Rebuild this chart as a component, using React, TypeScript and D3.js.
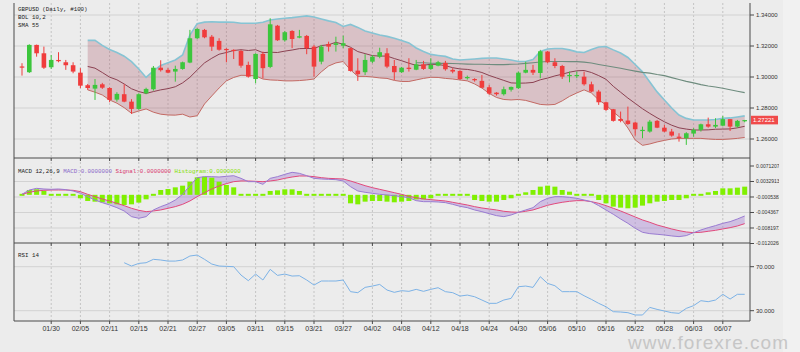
import React, { useEffect, useRef } from 'react';
import * as d3 from 'd3';

// GBPUSD daily, 100 bars (2019-01-24 .. 2019-06-12)
const dates = [
  '01/24', '01/25', '01/28', '01/29', '01/30', '01/31', '02/01', '02/04', '02/05', '02/06',
  '02/07', '02/08', '02/11', '02/12', '02/13', '02/14', '02/15', '02/18', '02/19', '02/20',
  '02/21', '02/22', '02/25', '02/26', '02/27', '02/28', '03/01', '03/04', '03/05', '03/06',
  '03/07', '03/08', '03/11', '03/12', '03/13', '03/14', '03/15', '03/18', '03/19', '03/20',
  '03/21', '03/22', '03/25', '03/26', '03/27', '03/28', '03/29', '04/01', '04/02', '04/03',
  '04/04', '04/05', '04/08', '04/09', '04/10', '04/11', '04/12', '04/15', '04/16', '04/17',
  '04/18', '04/19', '04/22', '04/23', '04/24', '04/25', '04/26', '04/29', '04/30', '05/01',
  '05/02', '05/03', '05/06', '05/07', '05/08', '05/09', '05/10', '05/13', '05/14', '05/15',
  '05/16', '05/17', '05/20', '05/21', '05/22', '05/23', '05/24', '05/27', '05/28', '05/29',
  '05/30', '05/31', '06/03', '06/04', '06/05', '06/06', '06/07', '06/10', '06/11', '06/12',
];

const tickDates = [
  '01/30', '02/05', '02/11', '02/15', '02/21', '02/27', '03/05', '03/11', '03/15', '03/21', '03/27', '04/02',
  '04/08', '04/12', '04/18', '04/24', '04/30', '05/06', '05/10', '05/16', '05/22', '05/28', '06/03', '06/07',
];

const open = [
  1.3068, 1.3031, 1.3207, 1.3153, 1.3063, 1.3110, 1.3095, 1.3076, 1.3028, 1.2947,
  1.2925, 1.2953, 1.2929, 1.2854, 1.2889, 1.2841, 1.2794, 1.2895, 1.2921, 1.3060,
  1.3046, 1.3035, 1.3052, 1.3093, 1.3250, 1.3304, 1.3260, 1.3233, 1.3181, 1.3175,
  1.3168, 1.3078, 1.2987, 1.3149, 1.3065, 1.3331, 1.3237, 1.3297, 1.3254, 1.3265,
  1.3196, 1.3099, 1.3213, 1.3207, 1.3202, 1.3186, 1.3041, 1.3031, 1.3099, 1.3131,
  1.3153, 1.3071, 1.3031, 1.3060, 1.3047, 1.3082, 1.3052, 1.3073, 1.3091, 1.3046,
  1.3039, 1.2992, 1.2987, 1.2975, 1.2934, 1.2899, 1.2889, 1.2918, 1.2928, 1.3028,
  1.3046, 1.3026, 1.3164, 1.3095, 1.3071, 1.3009, 1.3011, 1.3002, 1.2953, 1.2906,
  1.2837, 1.2792, 1.2729, 1.2719, 1.2706, 1.2652, 1.2648, 1.2717, 1.2673, 1.2648,
  1.2615, 1.2605, 1.2635, 1.2659, 1.2695, 1.2680, 1.2686, 1.2728, 1.2680, 1.2717,
];
const high = [
  1.3089, 1.3211, 1.3209, 1.3196, 1.3142, 1.3160, 1.3110, 1.3095, 1.3057, 1.2955,
  1.2987, 1.2962, 1.2934, 1.2902, 1.2953, 1.2857, 1.2895, 1.2931, 1.3071, 1.3108,
  1.3057, 1.3073, 1.3099, 1.3304, 1.3315, 1.3310, 1.3271, 1.3250, 1.3186, 1.3179,
  1.3175, 1.3099, 1.3153, 1.3164, 1.3379, 1.3336, 1.3297, 1.3302, 1.3304, 1.3271,
  1.3207, 1.3207, 1.3228, 1.3260, 1.3267, 1.3189, 1.3121, 1.3147, 1.3142, 1.3189,
  1.3186, 1.3110, 1.3065, 1.3121, 1.3110, 1.3104, 1.3121, 1.3104, 1.3104, 1.3057,
  1.3044, 1.3009, 1.2992, 1.3013, 1.2949, 1.2902, 1.2938, 1.2938, 1.3035, 1.3099,
  1.3078, 1.3175, 1.3168, 1.3121, 1.3078, 1.3035, 1.3035, 1.3035, 1.2970, 1.2917,
  1.2841, 1.2794, 1.2777, 1.2809, 1.2712, 1.2680, 1.2723, 1.2723, 1.2691, 1.2665,
  1.2637, 1.2644, 1.2670, 1.2699, 1.2738, 1.2734, 1.2749, 1.2729, 1.2723, 1.2723,
];
const low = [
  1.3009, 1.3026, 1.3131, 1.3052, 1.3052, 1.3095, 1.3046, 1.3024, 1.2928, 1.2917,
  1.2852, 1.2923, 1.2837, 1.2841, 1.2837, 1.2762, 1.2788, 1.2889, 1.2912, 1.3035,
  1.3024, 1.2970, 1.3047, 1.3089, 1.3245, 1.3250, 1.3168, 1.3170, 1.3095, 1.3116,
  1.3060, 1.2996, 1.2960, 1.2992, 1.3057, 1.3233, 1.3228, 1.3186, 1.3250, 1.3147,
  1.3002, 1.3082, 1.3164, 1.3164, 1.3186, 1.3035, 1.2975, 1.3013, 1.3089, 1.3121,
  1.3057, 1.2981, 1.3026, 1.3035, 1.3044, 1.3046, 1.3046, 1.3069, 1.3041, 1.3024,
  1.2981, 1.2983, 1.2970, 1.2928, 1.2884, 1.2880, 1.2880, 1.2906, 1.2923, 1.3024,
  1.3013, 1.2992, 1.3089, 1.3057, 1.2987, 1.2966, 1.2992, 1.2944, 1.2902, 1.2820,
  1.2781, 1.2712, 1.2708, 1.2691, 1.2622, 1.2605, 1.2641, 1.2670, 1.2644, 1.2615,
  1.2583, 1.2562, 1.2615, 1.2648, 1.2673, 1.2670, 1.2682, 1.2652, 1.2673, 1.2708,
];
const close = [
  1.3062, 1.3207, 1.3153, 1.3060, 1.3110, 1.3102, 1.3076, 1.3035, 1.2944, 1.2929,
  1.2949, 1.2931, 1.2852, 1.2891, 1.2841, 1.2794, 1.2889, 1.2923, 1.3060, 1.3044,
  1.3028, 1.3052, 1.3095, 1.3250, 1.3310, 1.3256, 1.3196, 1.3176, 1.3176, 1.3173,
  1.3073, 1.3002, 1.3149, 1.3057, 1.3340, 1.3237, 1.3289, 1.3245, 1.3263, 1.3186,
  1.3067, 1.3196, 1.3196, 1.3218, 1.3218, 1.3039, 1.3018, 1.3110, 1.3131, 1.3160,
  1.3067, 1.3031, 1.3060, 1.3052, 1.3082, 1.3052, 1.3078, 1.3095, 1.3050, 1.3035,
  1.2987, 1.3000, 1.2979, 1.2931, 1.2893, 1.2889, 1.2921, 1.2936, 1.3028, 1.3046,
  1.3028, 1.3166, 1.3095, 1.3071, 1.3002, 1.3013, 1.3013, 1.2953, 1.2906, 1.2837,
  1.2788, 1.2717, 1.2717, 1.2697, 1.2663, 1.2659, 1.2712, 1.2673, 1.2648, 1.2622,
  1.2609, 1.2637, 1.2659, 1.2695, 1.2680, 1.2691, 1.2728, 1.2680, 1.2717, 1.27221,
];

// BOL 10,2 (starts at bar 9)
const bollStart = 9;
const bollUpper = [
  1.3236, 1.3236, 1.3204, 1.3178, 1.3158, 1.3134, 1.3099, 1.3052, 1.2997, 1.3039,
  1.3075, 1.3092, 1.3110, 1.3142, 1.3271, 1.3344, 1.3354, 1.3356, 1.3354, 1.3354,
  1.3353, 1.3347, 1.3347, 1.3347, 1.3353, 1.3368, 1.3374, 1.3379, 1.3383, 1.3389,
  1.3394, 1.3387, 1.3374, 1.3362, 1.3352, 1.3326, 1.3339, 1.3320, 1.3297, 1.3284,
  1.3271, 1.3262, 1.3250, 1.3236, 1.3220, 1.3187, 1.3165, 1.3146, 1.3139, 1.3133,
  1.3116, 1.3110, 1.3113, 1.3116, 1.3120, 1.3123, 1.3123, 1.3116, 1.3110, 1.3100,
  1.3100, 1.3113, 1.3165, 1.3181, 1.3184, 1.3184, 1.3175, 1.3162, 1.3158, 1.3178,
  1.3194, 1.3197, 1.3175, 1.3155, 1.3126, 1.3081, 1.3033, 1.2968, 1.2904, 1.2852,
  1.2800, 1.2755, 1.2733, 1.2723, 1.2723, 1.2723, 1.2726, 1.2733, 1.2736, 1.2742,
  1.2749,
];
const bollMid = [
  1.3068, 1.3057, 1.3029, 1.2999, 1.2982, 1.2955, 1.2924, 1.2906, 1.2894, 1.2906,
  1.2917, 1.2925, 1.2937, 1.2962, 1.2998, 1.3045, 1.3091, 1.3121, 1.3147, 1.3158,
  1.3171, 1.3176, 1.3171, 1.3176, 1.3157, 1.3160, 1.3158, 1.3167, 1.3174, 1.3183,
  1.3184, 1.3183, 1.3203, 1.3208, 1.3224, 1.3211, 1.3192, 1.3164, 1.3151, 1.3138,
  1.3135, 1.3135, 1.3119, 1.3105, 1.3089, 1.3075, 1.3076, 1.3082, 1.3081, 1.3073,
  1.3060, 1.3052, 1.3049, 1.3041, 1.3029, 1.3010, 1.2994, 1.2978, 1.2962, 1.2960,
  1.2961, 1.2965, 1.2982, 1.2993, 1.3007, 1.3018, 1.3031, 1.3040, 1.3042, 1.3029,
  1.3009, 1.2985, 1.2940, 1.2902, 1.2864, 1.2830, 1.2795, 1.2765, 1.2737, 1.2711,
  1.2689, 1.2672, 1.2664, 1.2658, 1.2658, 1.2659, 1.2663, 1.2664, 1.2665, 1.2672,
  1.2682,
];
const bollLower = [
  1.2917, 1.2902, 1.2884, 1.2852, 1.2831, 1.2802, 1.2766, 1.2781, 1.2794, 1.2773,
  1.2760, 1.2755, 1.2754, 1.2760, 1.2742, 1.2750, 1.2826, 1.2878, 1.2929, 1.2975,
  1.2997, 1.3011, 1.3010, 1.3007, 1.2987, 1.2981, 1.2979, 1.2975, 1.2975, 1.2977,
  1.2981, 1.2987, 1.3033, 1.3071, 1.3091, 1.3100, 1.3046, 1.3004, 1.3004, 1.3000,
  1.2994, 1.2991, 1.2978, 1.2971, 1.2971, 1.2981, 1.2991, 1.2998, 1.2997, 1.2991,
  1.2987, 1.2981, 1.2975, 1.2955, 1.2929, 1.2894, 1.2868, 1.2855, 1.2852, 1.2855,
  1.2849, 1.2836, 1.2823, 1.2820, 1.2823, 1.2846, 1.2875, 1.2897, 1.2917, 1.2897,
  1.2852, 1.2820, 1.2775, 1.2736, 1.2671, 1.2594, 1.2559, 1.2568, 1.2581, 1.2591,
  1.2600, 1.2604, 1.2604, 1.2604, 1.2604, 1.2600, 1.2597, 1.2597, 1.2600, 1.2604,
  1.2610,
];

// SMA 55 (starts at bar 54)
const smaStart = 54;
const sma55 = [
  1.3092, 1.3092, 1.3089, 1.3088, 1.3088, 1.3087,
  1.3085, 1.3083, 1.3082, 1.3082, 1.3081, 1.3080, 1.3080, 1.3082, 1.3084, 1.3088,
  1.3092, 1.3097, 1.3100, 1.3100, 1.3100, 1.3099, 1.3099, 1.3096, 1.3090, 1.3081,
  1.3073, 1.3064, 1.3056, 1.3047, 1.3038, 1.3030, 1.3025, 1.3016, 1.3009, 1.2996,
  1.2984, 1.2972, 1.2962, 1.2951, 1.2942, 1.2935, 1.2927, 1.2918, 1.2908, 1.2899,
];

// MACD 12,26,9
const macd = [
  0.00012, 0.00119, 0.0016, 0.00144, 0.00136, 0.00144, 0.00128, 0.00095, 0.00037, -0.00045,
  -0.00128, -0.00193, -0.00251, -0.00317, -0.00399, -0.00539, -0.0058, -0.00539, -0.00374, -0.00292,
  -0.00226, -0.00128, 0.00012, 0.00226, 0.00424, 0.00449, 0.00449, 0.0044, 0.00457, 0.00473,
  0.00407, 0.00325, 0.00325, 0.00259, 0.00407, 0.00449, 0.00506, 0.00556, 0.00531, 0.00473,
  0.00407, 0.00391, 0.00383, 0.00374, 0.00342, 0.00202, 0.00095, 0.00062, 0.00037, 0.00012,
  -0.00004, -0.00021, -0.00045, -0.0007, -0.00144, -0.00169, -0.00169, -0.00177, -0.00193, -0.00235,
  -0.00284, -0.00317, -0.00374, -0.00416, -0.00465, -0.00514, -0.00539, -0.00498, -0.00432, -0.00374,
  -0.00317, -0.00169, -0.00086, -0.00045, -0.00045, -0.00062, -0.00086, -0.00128, -0.00169, -0.00267,
  -0.00374, -0.00481, -0.00597, -0.00704, -0.00827, -0.00926, -0.00959, -0.00975, -0.00992, -0.01016,
  -0.01033, -0.01008, -0.00934, -0.00868, -0.00811, -0.00761, -0.00704, -0.00663, -0.00597, -0.00523,
];
const signal = [
  0.00012, 0.00062, 0.00095, 0.00111, 0.00119, 0.00119, 0.00119, 0.00111, 0.00078, 0.00012,
  -0.00045, -0.00103, -0.00152, -0.0021, -0.00267, -0.00333, -0.00383, -0.00416, -0.00399, -0.00374,
  -0.00333, -0.00292, -0.00235, -0.00152, -0.00045, 0.00053, 0.00144, 0.00218, 0.00276, 0.00325,
  0.00342, 0.00342, 0.00333, 0.00325, 0.00342, 0.00366, 0.00407, 0.0044, 0.00465, 0.00465,
  0.00449, 0.00424, 0.00407, 0.00399, 0.00391, 0.00342, 0.00284, 0.00226, 0.00177, 0.00136,
  0.00095, 0.00053, 0.00012, -0.00037, -0.0007, -0.00103, -0.00119, -0.00136, -0.00152, -0.00185,
  -0.00218, -0.00251, -0.00292, -0.00325, -0.0035, -0.00374, -0.00407, -0.00424, -0.00432, -0.00407,
  -0.00374, -0.00317, -0.00259, -0.00218, -0.00185, -0.0016, -0.00144, -0.00144, -0.00169, -0.0021,
  -0.00267, -0.00333, -0.00399, -0.00473, -0.00547, -0.00621, -0.00679, -0.00745, -0.00794, -0.00844,
  -0.00885, -0.00918, -0.00934, -0.00926, -0.00901, -0.00877, -0.00844, -0.00811, -0.0077, -0.00712,
];
const histogram = [
  0.00021, 0.00119, 0.00136, 0.00095, 0.00029, 0.00029, 0.00021, 0.00012, -0.00086, -0.00152,
  -0.00169, -0.00185, -0.0021, -0.00235, -0.00251, -0.00235, -0.00193, -0.00111, -0.00012, 0.00119,
  0.00144, 0.00185, 0.00226, 0.00325, 0.00432, 0.00449, 0.00424, 0.00325, 0.00243, 0.00185,
  0.00021, -0.00012, -0.00012, -0.00021, 0.00095, 0.00111, 0.00136, 0.00136, 0.00095, 0.00021,
  -0.00012, -0.00012, -0.00012, -0.00012, -0.00021, -0.0021, -0.00235, -0.00169, -0.00152, -0.00152,
  -0.00169, -0.00185, -0.00169, -0.00152, -0.00111, -0.00111, -0.00086, -0.00021, -0.00021, -0.00021,
  -0.00021, -0.00021, -0.00128, -0.00152, -0.00169, -0.00169, -0.00128, -0.00086, -0.00012, 0.00062,
  0.00119, 0.00202, 0.00226, 0.00202, 0.00119, 0.00078, 0.00021, 0.00012, -0.00012, -0.00128,
  -0.0021, -0.00292, -0.00317, -0.00333, -0.00317, -0.00267, -0.0021, -0.00169, -0.00152, -0.00128,
  -0.00128, -0.00086, -0.00012, 0.00021, 0.00062, 0.00095, 0.0016, 0.0016, 0.00177, 0.00202,
];

// RSI 14 (starts at bar 14)
const rsiStart = 14;
const rsi = [
  73.6, 70.6, 73.0, 73.6, 76.7, 76.1, 75.1, 75.1, 76.1, 79.7,
  80.6, 76.7, 72.4, 70.6, 70.3, 70.0, 62.4, 57.3, 63.3, 57.9,
  67.6, 62.1, 63.3, 61.5, 61.8, 57.9, 53.3, 57.0, 57.0, 57.0,
  57.9, 47.3, 46.4, 51.2, 52.4, 53.9, 48.8, 46.7, 48.2, 47.6,
  49.4, 47.6, 49.4, 50.9, 47.3, 46.4, 43.3, 44.2, 42.7, 39.7,
  36.7, 36.7, 39.7, 41.2, 51.8, 52.4, 51.2, 60.9, 54.8, 52.7,
  47.3, 47.3, 47.3, 43.6, 40.3, 36.7, 33.6, 29.1, 28.8, 28.2,
  26.1, 26.1, 33.0, 31.2, 29.7, 28.2, 27.6, 32.1, 34.6, 39.1,
  38.2, 39.7, 44.9, 40.6, 44.9, 44.9,
];

const priceTicks = [1.34, 1.32, 1.3, 1.28, 1.26];
const macdTicks = [0.0071207, 0.0032913, -0.0005382, -0.0043677, -0.0081972, -0.0120268];
const rsiTicks = [70, 30];
const lastPrice = 1.27221;

const GREEN = '#3cc63c';
const RED = '#f03c3c';
const AXIS = '#4a4a4a';
const SANS = '"Liberation Sans", Arial, sans-serif';
const MONO = '"Liberation Mono", "DejaVu Sans Mono", monospace';

function drawChart(node: SVGSVGElement) {
  const svg = d3.select(node);
  svg.selectAll('*').remove();

  const left = 14;
  const right = 750;
  const panels = [
    { top: 3, bottom: 158 },
    { top: 158, bottom: 243 },
    { top: 243, bottom: 321 },
  ];

  const x = d3.scaleLinear().domain([0, dates.length - 1]).range([22, 744.7]);
  const yP = d3.scaleLinear().domain([1.26, 1.34]).range([139, 15]);
  const yM = d3.scaleLinear().domain([-0.0120268, 0.0071207]).range([243.5, 166]);
  const yR = d3.scaleLinear().domain([30, 70]).range([310.7, 266.7]);

  svg.append('rect').attr('width', 800).attr('height', 352).attr('fill', '#ececec');
  svg.append('rect').attr('x', 783).attr('width', 17).attr('height', 352).attr('fill', '#f1f1f1');

  const defs = svg.append('defs');
  defs.append('clipPath').attr('id', 'axisClip')
    .append('rect').attr('x', 750).attr('y', 0).attr('width', 29).attr('height', 352);

  const tickIdx = tickDates.map((d) => dates.indexOf(d));

  // grid
  const grid = svg.append('g');
  panels.forEach((p) => {
    grid.selectAll(null)
      .data(tickIdx)
      .enter()
      .append('line')
      .attr('x1', (d) => x(d)).attr('x2', (d) => x(d))
      .attr('y1', p.top).attr('y2', p.bottom)
      .attr('stroke', '#c4c4c4')
      .attr('stroke-dasharray', '2,2');
  });
  const hLines = [
    ...priceTicks.map((t) => yP(t)),
    ...macdTicks.slice(1, 5).map((t) => yM(t)),
    ...rsiTicks.map((t) => yR(t)),
  ];
  grid.selectAll(null)
    .data(hLines)
    .enter()
    .append('line')
    .attr('x1', left).attr('x2', right)
    .attr('y1', (d) => d).attr('y2', (d) => d)
    .attr('stroke', '#d2d2d2');

  // Bollinger bands
  const bandArea = d3.area<number>()
    .x((_, i) => x(i + bollStart))
    .y0((_, i) => yP(bollLower[i]))
    .y1((d) => yP(d));
  svg.append('path').datum(bollUpper).attr('d', bandArea).attr('fill', 'rgba(172,92,108,0.3)');

  const bandLine = d3.line<number>().x((_, i) => x(i + bollStart)).y((d) => yP(d));
  svg.append('path').datum(bollLower).attr('d', bandLine)
    .attr('fill', 'none').attr('stroke', '#c46a64').attr('stroke-width', 1);
  svg.append('path').datum(bollUpper).attr('d', bandLine)
    .attr('fill', 'none').attr('stroke', '#86c4d4').attr('stroke-width', 1.6);
  svg.append('path').datum(bollMid).attr('d', bandLine)
    .attr('fill', 'none').attr('stroke', '#8c4252').attr('stroke-width', 1);

  const smaLine = d3.line<number>().x((_, i) => x(i + smaStart)).y((d) => yP(d));
  svg.append('path').datum(sma55).attr('d', smaLine)
    .attr('fill', 'none').attr('stroke', '#6e8c7e').attr('stroke-width', 1.1);

  // candles
  const candles = svg.append('g')
    .selectAll('g')
    .data(dates.map((_, i) => i))
    .enter()
    .append('g');
  const col = (i: number) => (close[i] >= open[i] ? GREEN : RED);
  candles.append('line')
    .attr('x1', (i) => x(i)).attr('x2', (i) => x(i))
    .attr('y1', (i) => yP(high[i])).attr('y2', (i) => yP(low[i]))
    .attr('stroke', col).attr('stroke-width', 1);
  candles.append('rect')
    .attr('x', (i) => x(i) - 2.3)
    .attr('width', 4.6)
    .attr('y', (i) => yP(Math.max(open[i], close[i])))
    .attr('height', (i) => Math.max(1.2, Math.abs(yP(open[i]) - yP(close[i]))))
    .attr('fill', col);

  // MACD
  const macdArea = d3.area<number>()
    .x((_, i) => x(i))
    .y0((_, i) => yM(signal[i]))
    .y1((d) => yM(d));
  svg.append('path').datum(macd).attr('d', macdArea).attr('fill', 'rgba(168,128,212,0.42)');

  const zero = yM(0);
  svg.append('g')
    .selectAll('rect')
    .data(histogram)
    .enter()
    .append('rect')
    .attr('x', (_, i) => x(i) - 2.5)
    .attr('width', 5)
    .attr('y', (d) => {
      const h = Math.abs(yM(d) - zero);
      if (h < 2) return zero - 1;
      return Math.min(yM(d), zero);
    })
    .attr('height', (d) => Math.max(2, Math.abs(yM(d) - zero)))
    .attr('fill', '#80f000');

  const mLine = d3.line<number>().x((_, i) => x(i)).y((d) => yM(d));
  svg.append('path').datum(signal).attr('d', mLine)
    .attr('fill', 'none').attr('stroke', '#e24a7c').attr('stroke-width', 1);
  svg.append('path').datum(macd).attr('d', mLine)
    .attr('fill', 'none').attr('stroke', '#9a7cd2').attr('stroke-width', 1);

  // RSI
  const rLine = d3.line<number>().x((_, i) => x(i + rsiStart)).y((d) => yR(d));
  svg.append('path').datum(rsi).attr('d', rLine)
    .attr('fill', 'none').attr('stroke', '#7cb2e6').attr('stroke-width', 1);

  // frame
  const frame = svg.append('g').attr('stroke', AXIS).attr('stroke-width', 1);
  frame.append('line').attr('x1', left).attr('x2', left).attr('y1', 3).attr('y2', 321);
  frame.append('line').attr('x1', right).attr('x2', right).attr('y1', 3).attr('y2', 321);
  panels.forEach((p) => {
    frame.append('line').attr('x1', left).attr('x2', right).attr('y1', p.bottom).attr('y2', p.bottom);
    frame.selectAll(null)
      .data(tickIdx)
      .enter()
      .append('line')
      .attr('x1', (d) => x(d)).attr('x2', (d) => x(d))
      .attr('y1', p.bottom).attr('y2', p.bottom + 3);
  });

  // right axis ticks + labels
  const rightTicks = [
    ...priceTicks.map((t) => ({ y: yP(t), label: t.toFixed(5), size: 6 })),
    ...macdTicks.map((t) => ({ y: yM(t), label: t.toFixed(7), size: 5 })),
    ...rsiTicks.map((t) => ({ y: yR(t), label: t.toFixed(3), size: 6 })),
  ];
  frame.selectAll(null)
    .data(rightTicks)
    .enter()
    .append('line')
    .attr('x1', right).attr('x2', right + 4)
    .attr('y1', (d) => d.y).attr('y2', (d) => d.y);
  svg.append('g')
    .attr('clip-path', 'url(#axisClip)')
    .selectAll('text')
    .data(rightTicks)
    .enter()
    .append('text')
    .attr('x', right + 6)
    .attr('y', (d) => d.y + d.size * 0.36)
    .attr('font-family', SANS)
    .attr('font-size', (d) => d.size)
    .attr('fill', '#333')
    .text((d) => d.label);

  // last price marker
  const ly = yP(lastPrice);
  svg.append('rect').attr('x', 751).attr('y', ly - 4.3).attr('width', 27).attr('height', 8.6).attr('fill', '#f04a4a');
  svg.append('text').attr('x', 753).attr('y', ly + 2.2)
    .attr('font-family', SANS).attr('font-size', 6).attr('fill', '#fff').text(lastPrice.toFixed(5));

  // date labels
  svg.append('g')
    .selectAll('text')
    .data(tickIdx)
    .enter()
    .append('text')
    .attr('x', (d) => x(d))
    .attr('y', 330.5)
    .attr('text-anchor', 'middle')
    .attr('font-family', SANS)
    .attr('font-size', 7)
    .attr('fill', '#333')
    .text((d) => dates[d]);

  // panel titles
  const title = svg.append('g').attr('font-family', MONO).attr('font-size', 5.8).attr('fill', '#222');
  title.append('text').attr('x', 18).attr('y', 11).text('GBPUSD (Daily, #100)');
  title.append('text').attr('x', 18).attr('y', 19).text('BOL 10,2');
  title.append('text').attr('x', 18).attr('y', 27).text('SMA 55');
  const mt = title.append('text').attr('x', 18).attr('y', 173);
  mt.append('tspan').text('MACD 12,26,9 ');
  mt.append('tspan').attr('fill', '#8a68c8').text('MACD:0.0000000 ');
  mt.append('tspan').attr('fill', '#d8386c').text('Signal:0.0000000 ');
  mt.append('tspan').attr('fill', '#84e000').text('Histogram:0.0000000');
  title.append('text').attr('x', 18).attr('y', 257).text('RSI 14');

  // watermark
  svg.append('text')
    .attr('x', 628).attr('y', 349)
    .attr('font-family', SANS)
    .attr('font-size', 19)
    .attr('textLength', 160)
    .attr('fill', '#c6c6c6')
    .text('www.forexre.com');
}

export default function App() {
  const ref = useRef<SVGSVGElement>(null);

  useEffect(() => {
    if (ref.current) drawChart(ref.current);
  }, []);

  return (
    <svg
      ref={ref}
      width={800}
      height={352}
      style={{ position: 'absolute', left: 0, top: 0, display: 'block' }}
    />
  );
}
